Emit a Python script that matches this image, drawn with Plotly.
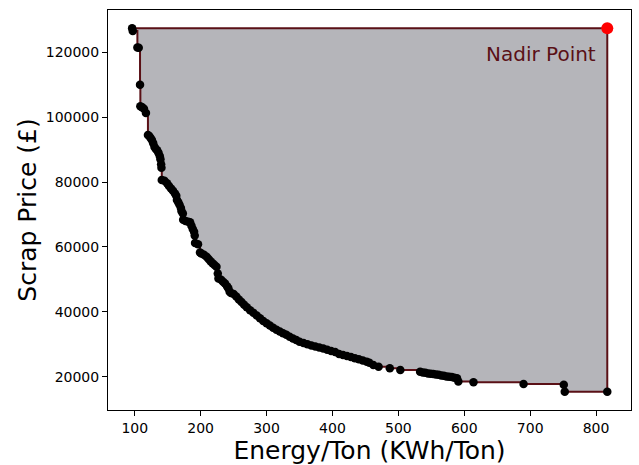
import plotly.graph_objects as go

# Pareto front (Energy/Ton, Scrap Price)
energy = [96, 97, 104, 106, 108, 108.5, 111, 114, 117, 120, 122, 124, 126, 128, 130, 132, 134, 136,
          138, 139, 140, 140.5, 141, 145, 149, 152, 155, 158, 161, 163, 164, 166, 168, 170, 171, 173,
          173.5, 177, 181, 184, 186, 188, 190, 191, 191.5, 196, 199, 201, 205, 209, 212, 215, 218, 221,
          224, 226, 227, 231, 234, 237, 240, 242, 244, 246, 250, 254, 258, 262, 266, 270, 275, 280,
          285, 290, 295, 300, 305, 310, 315, 320, 325, 330, 335, 340, 345, 350, 356, 362, 368, 374,
          380, 386, 392, 398, 404, 410, 416, 422, 428, 434, 440, 446, 452, 456, 462, 470, 487, 503,
          533, 537, 541, 545, 549, 553, 557, 561, 565, 569, 573, 577, 581, 585, 589, 591, 614, 690,
          751, 752.5, 817]
price = [127400, 126600, 121500, 121400, 110000, 103400, 103100, 102600, 101300, 94500, 94200, 93600,
         93000, 92000, 90800, 90200, 89800, 89000, 88000, 87000, 85500, 84400, 80600, 80400, 79600,
         78800, 78000, 77300, 76500, 75800, 74500, 73800, 73000, 72000, 71000, 70300, 68400, 68000,
         67800, 67600, 66500, 65500, 64700, 63500, 61200, 60800, 58300, 58000, 57600, 57000, 56300,
         55600, 55000, 54400, 53900, 51800, 50300, 49900, 49300, 48700, 47900, 47300, 46200, 45800,
         45500, 44700, 43800, 43000, 42200, 41400, 40500, 39700, 38900, 38000, 37200, 36500, 35800,
         35100, 34500, 33900, 33400, 32900, 32300, 31800, 31300, 30800, 30400, 30000, 29600, 29300,
         29000, 28700, 28300, 27900, 27600, 27000, 26700, 26400, 26100, 25700, 25400, 25000, 24600,
         24300, 23600, 23100, 22600, 22060, 21500, 21300, 21200, 21000, 20900, 20800, 20700, 20600,
         20400, 20300, 20100, 20000, 19900, 19700, 19500, 18500, 18270, 17750, 17500, 15380, 15380]

nadir_x = max(energy)
nadir_y = max(price)

x_ticks = [100, 200, 300, 400, 500, 600, 700, 800]
y_ticks = [20000, 40000, 60000, 80000, 100000, 120000]

FONT = "DejaVu Sans"
MAROON = "#5a1016"

fig = go.Figure()

# dominated region (step boundary)
poly_x = energy + [nadir_x, energy[0]]
poly_y = price + [nadir_y, price[0]]
fig.add_trace(go.Scatter(
    x=poly_x, y=poly_y, mode="lines", line=dict(color=MAROON, width=2, shape="hv"),
    fill="toself", fillcolor="rgb(181,181,186)", hoverinfo="skip", showlegend=False))

fig.add_trace(go.Scatter(
    x=energy, y=price, mode="markers",
    marker=dict(color="black", size=8.5), showlegend=False))

fig.add_trace(go.Scatter(
    x=[nadir_x], y=[nadir_y], mode="markers",
    marker=dict(color="#ff0000", size=12), showlegend=False))

fig.add_annotation(x=803, y=119500, text="Nadir Point", showarrow=False,
                   xanchor="right", yanchor="middle",
                   font=dict(family=FONT, size=20, color=MAROON))

axis_common = dict(showgrid=False, zeroline=False, showline=True, linecolor="black",
                   linewidth=1, mirror=True, ticks="outside", ticklen=5, tickwidth=1,
                   tickcolor="black", automargin=False,
                   tickfont=dict(family=FONT, size=14, color="black"))

fig.update_xaxes(range=[59.4, 853], tickvals=x_ticks, ticktext=[str(v) for v in x_ticks],
                 title=dict(text="Energy/Ton (KWh/Ton)", font=dict(family=FONT, size=25, color="black"),
                            standoff=4),
                 **axis_common)
fig.update_yaxes(range=[9735, 133040], tickvals=y_ticks, ticktext=[str(v) for v in y_ticks],
                 title=dict(text="Scrap Price (£)", font=dict(family=FONT, size=25, color="black"),
                            standoff=1),
                 **axis_common)

fig.update_layout(width=639, height=465, margin=dict(l=108, r=8, t=10, b=55),
                  plot_bgcolor="white", paper_bgcolor="white", font=dict(family=FONT))

fig.write_html("out.html", config={"displayModeBar": False},
               post_script="document.body.style.margin='0';document.body.style.overflow='hidden';")
